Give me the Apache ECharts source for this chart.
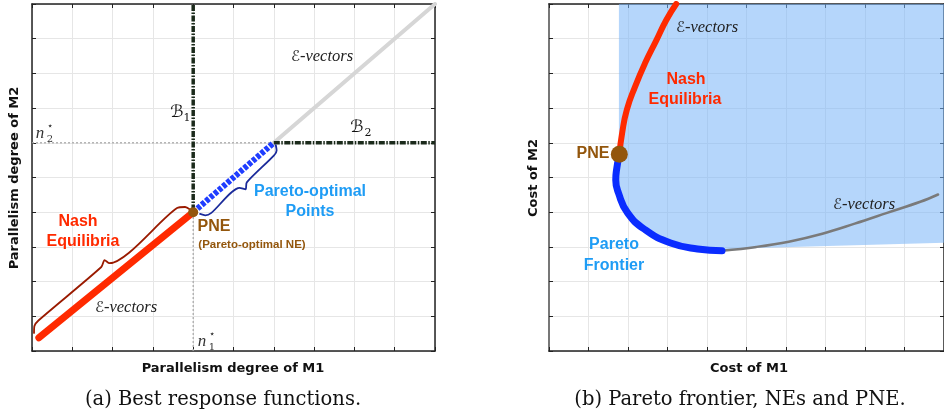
<!DOCTYPE html>
<html><head><meta charset="utf-8">
<script src="https://cdn.jsdelivr.net/npm/echarts@6/dist/echarts.min.js"></script>
<style>html,body{margin:0;padding:0;background:#fff}#c{width:944px;height:415px}</style>
</head><body><div id="c"></div>
<script>
// ===== shared axis range (no tick labels in the figure) =====
const axisMin = 0, axisMax = 10, axisStep = 1;

// ===== (a) Best response functions =====
const neLineA      = [[0.17, 0.38], [4, 4]];
const paretoLineA  = [[4, 4], [6, 6]];
const eVecLineA    = [[6, 6], [10, 10]];
const b1Line       = [[4, 4.05], [4, 10]];
const b2Line       = [[6, 6], [10, 6]];
const n1Guide      = [[4, 0], [4, 4]];
const n2Guide      = [[0, 6], [6, 6]];
const pneA         = [[4, 4]];
const braceNE      = [[0.05,0.52],[0.06,0.72],[0.16,0.88],[1.72,2.42],[1.80,2.62],[1.92,2.53],[3.60,4.12],[3.80,4.15],[3.92,4.08]];
const bracePareto  = [[4.17,3.95],[4.30,3.91],[4.45,3.98],[5.15,4.70],[5.30,4.66],[5.33,4.86],[6.00,5.63],[6.07,5.78],[6.05,5.93]];

// ===== (b) Pareto frontier, NEs and PNE =====
const neCurveB     = [[1.78,5.67],[1.85,6.27],[1.97,6.95],[2.18,7.62],[2.43,8.29],[2.72,8.96],[2.97,9.54],[3.22,10.0]];
const paretoCurveB = [[1.78,5.67],[1.71,5.22],[1.69,4.93],[1.76,4.55],[1.99,3.98],[2.44,3.49],[3.08,3.11],[3.76,2.94],[4.38,2.89]];
const eVecCurveB   = [[4.38,2.89],[5.25,3.0],[6.07,3.15],[6.92,3.38],[7.74,3.67],[8.56,3.98],[9.40,4.30],[9.85,4.51]];
const feasibleRegion = [[1.77,10],[1.77,5.67],[1.71,5.22],[1.69,4.93],[1.76,4.55],[1.99,3.98],[2.44,3.49],[3.08,3.11],[3.76,2.94],[4.38,2.89],[5.25,2.97],[10,3.12],[10,10]];
const pneB         = [[1.78, 5.67]];

// ===== styling =====
const RED = '#ff2a00', BROWN = '#93560c', LBLUE = '#1e9cf5', DBLUE = '#0a2cff';
const GRID_LINE = '#e6e6e6';

function xAx(grid, pos, split, lineColor, lineWidth) {
  return { type:'value', gridIndex:grid, position:pos, min:axisMin, max:axisMax, interval:axisStep,
    axisLabel:{show:false}, axisLine:{onZero:false, lineStyle:{color:lineColor, width:lineWidth}},
    axisTick:{inside:true, length:4, lineStyle:{color:'#222', width:1}},
    splitLine:{show:split, lineStyle:{color:GRID_LINE, width:1}} };
}

const sansB = s => 'bold ' + s + 'px "Liberation Sans", Arial, sans-serif';
const dejaB = s => 'bold ' + s + 'px "DejaVu Sans", sans-serif';
const serif = s => s + 'px "DejaVu Serif", serif';

function T(x, y, text, font, fill, extra) {
  return Object.assign({ type:'text', x:x, y:y, z:100, silent:true,
    style:{ text:text, font:font, fill:fill || '#111', align:'center', verticalAlign:'middle' } }, extra || {});
}
// "ℰ-vectors" with upright script letter and italic remainder
function EV(x, y) {
  return { type:'text', x:x, y:y, z:100, silent:true,
    style:{ text:'{e|ℰ}{v|-vectors}', align:'center', verticalAlign:'middle', fill:'#222',
      rich:{ e:{ fontFamily:'"DejaVu Sans", serif', fontSize:15, fill:'#222' },
             v:{ fontFamily:'"Liberation Serif", serif', fontStyle:'italic', fontSize:16.5, fill:'#222' } } } };
}

const graphics = [
  // (a)
  EV(322, 57), EV(126, 308),
  T(177, 113, 'ℬ', '17px "DejaVu Sans", serif', '#111'), T(187, 118, '1', serif(11), '#111'),
  T(357, 128, 'ℬ', '17px "DejaVu Sans", serif', '#111'), T(368, 133, '2', serif(11), '#111'),
  T(40, 134, 'n', 'italic 17px "Liberation Serif", serif', '#333'), T(50, 126, '⋆', serif(10), '#333'), T(50, 139, '2', serif(10), '#333'),
  T(202, 342, 'n', 'italic 17px "Liberation Serif", serif', '#333'), T(212, 334, '⋆', serif(10), '#333'), T(212, 347, '1', serif(10), '#333'),
  T(78, 222, 'Nash', sansB(16), RED), T(83, 242, 'Equilibria', sansB(16), RED),
  T(214, 227, 'PNE', sansB(16), BROWN),
  T(252, 245, '(Pareto-optimal NE)', sansB(11.5), BROWN),
  T(310, 192, 'Pareto-optimal', sansB(16), LBLUE), T(310, 212, 'Points', sansB(16), LBLUE),
  T(233, 369, 'Parallelism degree of M1', dejaB(13), '#111'),
  T(15, 178, 'Parallelism degree of M2', dejaB(13), '#111', {rotation: Math.PI/2}),
  T(223, 400, '(a) Best response functions.', serif(19.5), '#111'),
  // (b)
  EV(707, 28), EV(864, 205),
  T(686, 80, 'Nash', sansB(16), RED), T(685, 100, 'Equilibria', sansB(16), RED),
  T(593, 154, 'PNE', sansB(16), BROWN),
  T(614, 245, 'Pareto', sansB(16), LBLUE), T(614, 266, 'Frontier', sansB(16), LBLUE),
  T(749, 369, 'Cost of M1', dejaB(13), '#111'),
  T(534, 178, 'Cost of M2', dejaB(13), '#111', {rotation: Math.PI/2}),
  T(740, 400, '(b) Pareto frontier, NEs and PNE.', serif(19.5), '#111')
];

function line(data, xi, color, width, extra) {
  return Object.assign({ type:'line', xAxisIndex:xi, yAxisIndex:xi, data:data, symbol:'none',
    silent:true, animation:false,
    lineStyle:{ color:color, width:width, cap:'round' } }, extra || {});
}

const option = {
  animation:false,
  backgroundColor:'#fff',
  grid:[
    { left:32, top:4, width:403, height:347 },
    { left:549, top:4, width:402, height:347 }
  ],
  xAxis:[
    xAx(0, 'bottom', true, '#222', 1.5),
    xAx(0, 'top', false, '#222', 1.5),
    xAx(1, 'bottom', true, '#222', 1.5),
    xAx(1, 'top', false, '#222', 1.5)
  ],
  yAxis:[
    xAx(0, 'left', true, '#222', 1.5),
    xAx(0, 'right', false, '#222', 1.5),
    xAx(1, 'left', true, '#777', 2),
    xAx(1, 'right', false, '#222', 1.5)
  ],
  graphic: graphics,
  series:[
    // (a)
    line(n2Guide, 0, '#aaaaaa', 1.3, {lineStyle:{color:'#aaaaaa', width:1.3, type:[2,2]}}),
    line(n1Guide, 0, '#aaaaaa', 1.3, {lineStyle:{color:'#aaaaaa', width:1.3, type:[2,2]}}),
    line(eVecLineA, 0, '#d6d6d6', 4),
    line(b1Line, 0, '#1b2a1b', 3.5, {lineStyle:{color:'#1b2a1b', width:3.5, type:[6,1.5,1.5,1.5]}}),
    line(b2Line, 0, '#1b2a1b', 3.5, {lineStyle:{color:'#1b2a1b', width:3.5, type:[6,1.5,1.5,1.5]}}),
    line(neLineA, 0, RED, 7),
    line(paretoLineA, 0, '#1f3dff', 6, {lineStyle:{color:'#1f3dff', width:6, type:[4,1.6], cap:'butt'}}),
    line(braceNE, 0, '#9a1a00', 1.8, {smooth:0.25}),
    line(bracePareto, 0, '#1a2a9a', 1.8, {smooth:0.25}),
    { type:'scatter', xAxisIndex:0, yAxisIndex:0, data:pneA, symbolSize:10, itemStyle:{color:BROWN, opacity:1}, z:5, animation:false },
    // (b)
    { type:'custom', xAxisIndex:2, yAxisIndex:2, data:[[0,0]], animation:false, silent:true, z:1,
      renderItem:function(params, api){
        return { type:'polygon', shape:{ points: feasibleRegion.map(function(p){ return api.coord(p); }) },
                 style:{ fill:'rgba(120,180,247,0.55)' } };
      } },
    line(eVecCurveB, 2, '#7a7a7a', 2.5, {smooth:0.4}),
    line(paretoCurveB, 2, DBLUE, 7, {smooth:true}),
    line(neCurveB, 2, RED, 6, {smooth:true}),
    { type:'scatter', xAxisIndex:2, yAxisIndex:2, data:pneB, symbolSize:17, itemStyle:{color:BROWN, opacity:1}, z:5, animation:false }
  ]
};

const chart = echarts.init(document.getElementById('c'), null, {renderer:'canvas'});
chart.setOption(option);
</script>
</body></html>
